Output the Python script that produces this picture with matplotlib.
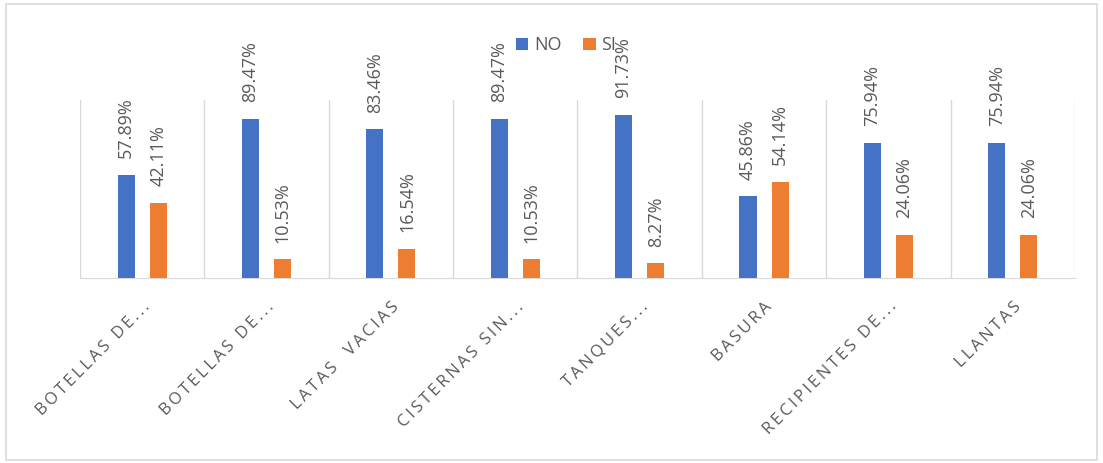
import matplotlib
matplotlib.use("Agg")
import matplotlib.pyplot as plt
import numpy as np
from matplotlib.patches import Rectangle

categories = ["BOTELLAS DE...", "BOTELLAS DE...", "LATAS  VACIAS", "CISTERNAS SIN...",
              "TANQUES...", "BASURA", "RECIPIENTES DE...", "LLANTAS"]
no_vals = [57.89, 89.47, 83.46, 89.47, 91.73, 45.86, 75.94, 75.94]
si_vals = [42.11, 10.53, 16.54, 10.53, 8.27, 54.14, 24.06, 24.06]
series_names = ["NO", "SI"]

BLUE = "#4472C4"
ORANGE = "#ED7D31"
TXT = "#595959"
GRID = "#D9D9D9"

fig = plt.figure(figsize=(11.03, 4.63), dpi=100)
fig.patch.set_facecolor("white")
fig.patches.append(Rectangle((0.005, 0.006), 0.99, 0.985, transform=fig.transFigure,
                             fill=False, edgecolor=GRID, linewidth=1.2))

ax = fig.add_axes([0.0725, 0.3996, 0.9021, 0.3844])
x = np.arange(len(categories))
w = 0.137
off = 0.129
b1 = ax.bar(x - off, no_vals, w, color=BLUE, label=series_names[0], zorder=3)
b2 = ax.bar(x + off, si_vals, w, color=ORANGE, label=series_names[1], zorder=3)

ax.set_xlim(-0.5, len(categories) - 0.5)
ax.set_ylim(0, 100)
for b in np.arange(-0.5, len(categories), 1.0):
    ax.axvline(b, color=GRID, linewidth=1, zorder=1)

for bars, vals in ((b1, no_vals), (b2, si_vals)):
    for r, v in zip(bars, vals):
        ax.annotate(f"{v:.2f}%", (r.get_x() + r.get_width() / 2, v),
                    xytext=(0, 12), textcoords="offset points",
                    rotation=90, ha="center", va="bottom",
                    fontsize=13, color=TXT, family="Open Sans")

for s in ("top", "left", "right"):
    ax.spines[s].set_visible(False)
ax.spines["bottom"].set_color(GRID)
ax.set_yticks([])
ax.set_xticks(x)
spaced = ["\u2009".join(list(c)) for c in categories]
ax.set_xticklabels(spaced, rotation=45, ha="right", rotation_mode="anchor",
                   fontsize=12, color=TXT, family="Open Sans")
ax.tick_params(axis="x", length=0, pad=15)

fig.legend(handles=[b1, b2], labels=series_names, loc="center",
           bbox_to_anchor=(0.513, 0.902), ncol=2, frameon=False,
           prop={"family": "Open Sans", "size": 13}, labelcolor=TXT,
           handlelength=0.7, handleheight=0.7, handletextpad=0.3, columnspacing=1.2)

fig.savefig("out.png", dpi=100, facecolor="white")
